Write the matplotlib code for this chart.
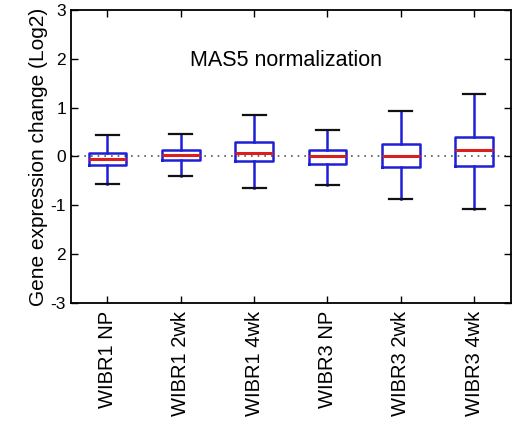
import matplotlib
matplotlib.use("Agg")
import matplotlib.pyplot as plt

plt.rcParams["font.family"] = ["Liberation Sans", "DejaVu Sans"]

# Box statistics (log2 change)
groups = ["WIBR1 NP", "WIBR1 2wk", "WIBR1 4wk", "WIBR3 NP", "WIBR3 2wk", "WIBR3 4wk"]
whisker_low = [-0.57, -0.40, -0.65, -0.58, -0.88, -1.07]
q1 = [-0.18, -0.075, -0.09, -0.16, -0.21, -0.20]
median = [-0.055, 0.03, 0.07, 0.0, 0.0, 0.14]
q3 = [0.06, 0.14, 0.29, 0.13, 0.245, 0.39]
whisker_high = [0.43, 0.46, 0.85, 0.55, 0.92, 1.27]

y_ticks = [3, 2, 1, 0, -1, -2, -3]
y_ticklabels = ["3", "2", "1", "0", "-1", "2", "-3"]

stats = []
for i, name in enumerate(groups):
    stats.append({
        "label": name,
        "whislo": whisker_low[i],
        "q1": q1[i],
        "med": median[i],
        "q3": q3[i],
        "whishi": whisker_high[i],
        "fliers": [],
    })

fig = plt.figure(figsize=(5.17, 4.32), dpi=100)
ax = fig.add_axes([0.137, 0.299, 0.851, 0.678])

ax.axhline(0, color="#555555", linestyle=(0, (1, 3)), linewidth=1.2, zorder=1)

ax.bxp(stats, positions=range(1, 7), widths=0.51, capwidths=0.31,
       boxprops=dict(color="#1f1fd6", linewidth=1.8),
       whiskerprops=dict(color="#1f1fd6", linewidth=1.8, linestyle="-"),
       capprops=dict(color="#111111", linewidth=1.6),
       medianprops=dict(color="#d82020", linewidth=2.2),
       showfliers=False)

ax.set_xlim(0.5, 6.5)
ax.set_ylim(-3, 3)
ax.set_yticks(y_ticks)
ax.set_yticklabels(y_ticklabels, fontsize=12.5)
ax.set_xticks(range(1, 7))
ax.set_xticklabels(groups, rotation=90, fontsize=14.5)
ax.tick_params(direction="in", top=True, right=True, length=5, width=1)
ax.tick_params(axis="x", pad=6)
for s in ax.spines.values():
    s.set_linewidth(1.3)

ax.set_ylabel("Gene expression change (Log2)", fontsize=15, labelpad=2)
ax.text(0.49, 0.826, "MAS5 normalization", transform=ax.transAxes,
        ha="center", va="center", fontsize=15.5)

fig.savefig("out.png", dpi=100)
